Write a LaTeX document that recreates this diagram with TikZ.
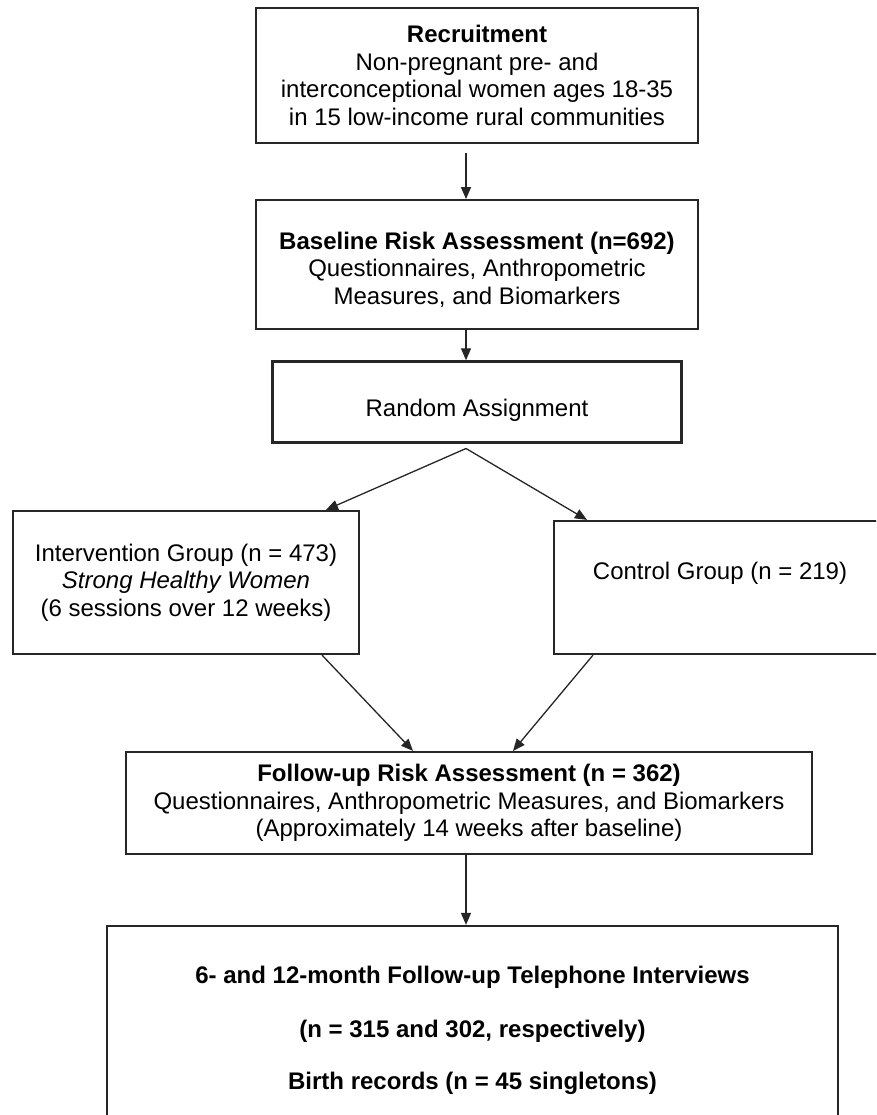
\documentclass[tikz,border=0pt]{standalone}
\usepackage{fontspec}
\setmainfont{Liberation Sans}
\usetikzlibrary{positioning, arrows.meta}

\begin{document}
\begin{tikzpicture}[
          x=1pt, y=-1pt,
          stage/.style={rectangle, draw=black!85, line width=2.2pt, align=center, inner sep=0pt,
                        font=\fontsize{24}{27.5}\selectfont},
          arrow/.style={-{Triangle[length=12pt, width=10pt]}, line width=1.3pt, draw=black!85},
          node distance=55pt
        ]
          \path[use as bounding box, clip] (0,0) rectangle (876,1115);

          \node[stage, minimum width=442pt, minimum height=135pt] (rec) at (477,75.5)
            {\textbf{Recruitment}\\ Non-pregnant pre- and\\ interconceptional women ages 18-35\\ in 15 low-income rural communities};
          \node[stage, minimum width=442pt, minimum height=129pt, below=of rec] (base)
            {~\\ \textbf{Baseline Risk Assessment (n=692)}\\ Questionnaires, Anthropometric\\ Measures, and Biomarkers};
          \node[stage, minimum width=409pt, minimum height=81pt, below=30pt of base] (rand)
            {\raisebox{-8pt}[\height][\depth]{Random Assignment}};

          \node[stage, minimum width=346pt, minimum height=143pt] (interv) at (186,582.5)
            {Intervention Group (n = 473)\\ \textit{Strong Healthy Women}\\ (6 sessions over 12 weeks)};
          \node[stage, minimum width=332pt, minimum height=133pt] (ctrl) at (720,587.5)
            {Control Group (n = 219)\\[6pt]~};

          \node[stage, minimum width=686pt, minimum height=102pt] (follow) at (469,803)
            {\textbf{Follow-up Risk Assessment (n = 362)}\\ Questionnaires, Anthropometric Measures, and Biomarkers\\ (Approximately 14 weeks after baseline)};
          \node[stage, minimum width=731pt, minimum height=208pt, font=\bfseries\fontsize{24}{27.5}\selectfont] (phone) at (472.5,1030)
            {6- and 12-month Follow-up Telephone Interviews\\[27pt] (n = 315 and 302, respectively)\\[24pt] Birth records (n = 45 singletons)};

          \coordinate (split) at ([xshift=-11pt, yshift=-5pt]rand.south);

          \draw[arrow, shorten <=9pt] ([xshift=-11pt]rec.south) -- ([xshift=-11pt]base.north);
          \draw[arrow] ([xshift=-11pt]base.south) -- ([xshift=-11pt]rand.north);
          \draw[arrow] (split) -- ([xshift=140pt]interv.north);
          \draw[arrow] (split) -- ([xshift=-133pt]ctrl.north);
          \draw[arrow] ([xshift=136pt]interv.south) -- ([xshift=-56pt]follow.north);
          \draw[arrow] ([xshift=-127pt]ctrl.south) -- ([xshift=44pt]follow.north);
          \draw[arrow] ([xshift=-3pt]follow.south) -- ([xshift=-6.5pt]phone.north);
\end{tikzpicture}
\end{document}
